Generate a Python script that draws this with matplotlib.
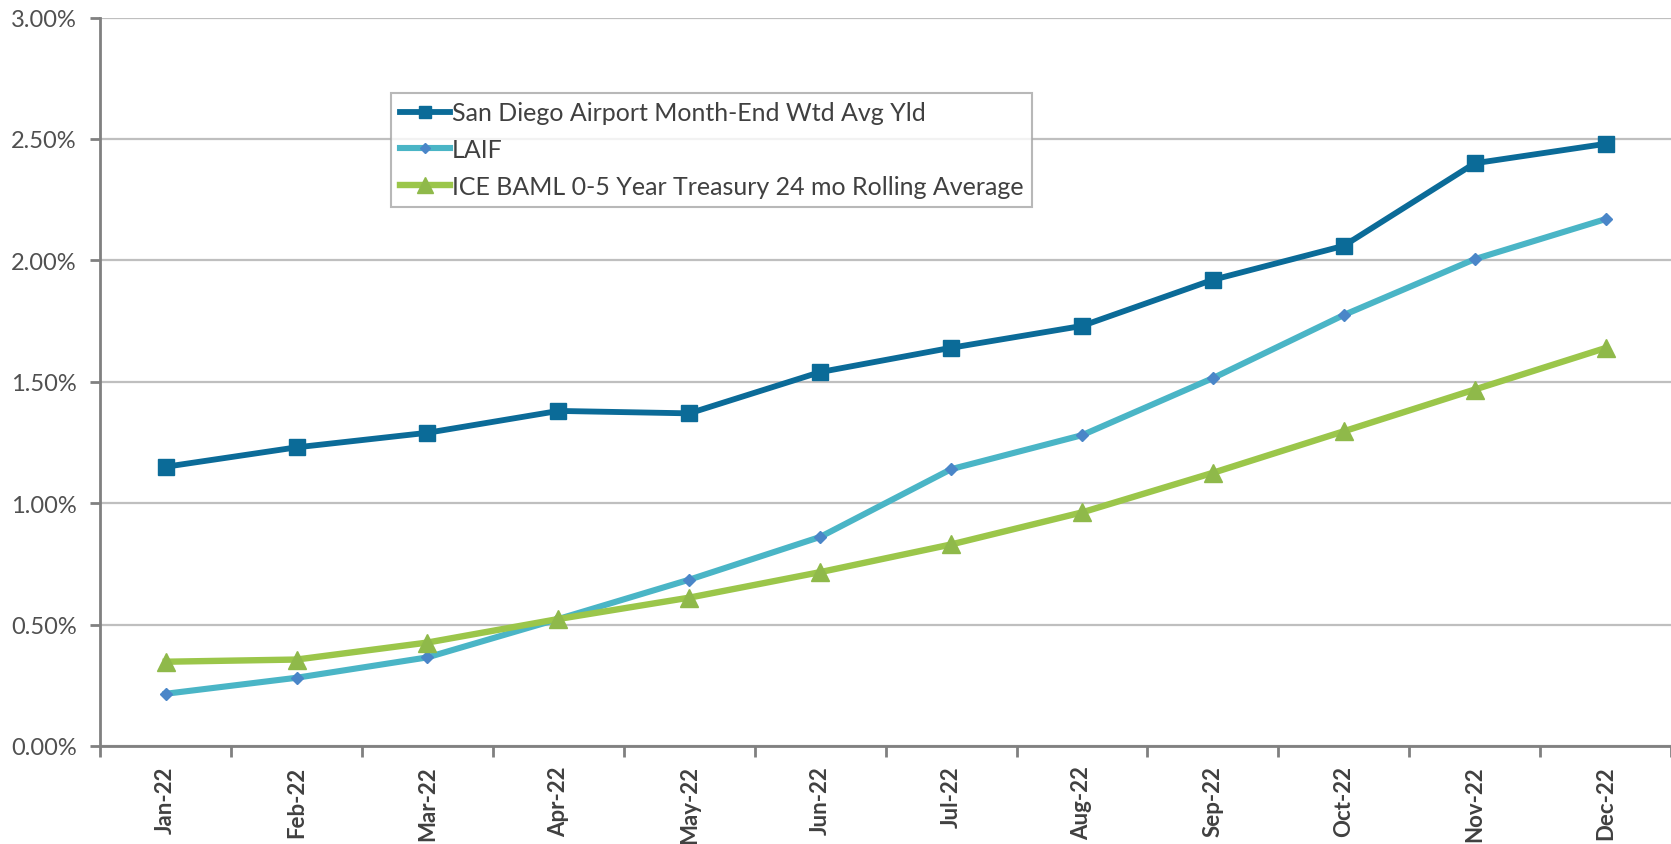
import matplotlib
matplotlib.use("Agg")
import matplotlib.pyplot as plt
from matplotlib.ticker import FuncFormatter, FixedLocator

plt.rcParams['font.family'] = ['Lato', 'DejaVu Sans']

months = ['Jan-22', 'Feb-22', 'Mar-22', 'Apr-22', 'May-22', 'Jun-22',
          'Jul-22', 'Aug-22', 'Sep-22', 'Oct-22', 'Nov-22', 'Dec-22']

# yields in percent
san_diego = [1.15, 1.23, 1.29, 1.38, 1.37, 1.54, 1.64, 1.73, 1.92, 2.06, 2.40, 2.48]
laif = [0.215, 0.281, 0.365, 0.523, 0.685, 0.861, 1.14, 1.28, 1.515, 1.775, 2.005, 2.17]
ice_baml = [0.347, 0.356, 0.426, 0.523, 0.611, 0.716, 0.83, 0.962, 1.125, 1.296, 1.468, 1.639]

fig = plt.figure(figsize=(16.71, 8.45), dpi=100)
ax = fig.add_axes([0.06, 0.116, 0.94, 0.862])

x = list(range(len(months)))

ax.plot(x, san_diego, color='#0b6b98', lw=4.2, marker='s', ms=11,
        markerfacecolor='#0b6b98', markeredgecolor='#0b6b98',
        label='San Diego Airport Month-End Wtd Avg Yld', zorder=4)
ax.plot(x, laif, color='#4ab5c6', lw=4.4, marker='D', ms=6.5,
        markerfacecolor='#4a86c8', markeredgecolor='#4a86c8',
        label='LAIF', zorder=3)
ax.plot(x, ice_baml, color='#9bc64a', lw=4.6, marker='^', ms=13,
        markerfacecolor='#8fb94a', markeredgecolor='#8fb94a',
        label='ICE BAML 0-5 Year Treasury 24 mo Rolling Average', zorder=3)

ax.set_xlim(-0.5, len(months) - 0.5)
ax.set_ylim(0, 3.0)
ax.set_yticks([0, 0.5, 1.0, 1.5, 2.0, 2.5, 3.0])
ax.yaxis.set_major_formatter(FuncFormatter(lambda v, p: f'{v:.2f}%'))

# category boundaries carry the ticks, centres carry the labels
ax.xaxis.set_major_locator(FixedLocator([i - 0.5 for i in range(len(months) + 1)]))
ax.xaxis.set_major_formatter(FuncFormatter(lambda v, p: ''))
ax.set_xticks(x, minor=True)
ax.set_xticklabels(months, minor=True, rotation=90, fontsize=16,
                   fontweight='bold', color='#404040')
ax.tick_params(axis='x', which='major', length=8, width=2, color='#808080', direction='out')
ax.tick_params(axis='x', which='minor', length=0, pad=14)
ax.tick_params(axis='y', length=7, width=2, color='#808080', labelsize=17,
               labelcolor='#505050', pad=10)

ax.grid(axis='y', color='#bfbfbf', lw=1.6)
ax.set_axisbelow(True)
for s in ['top', 'right']:
    ax.spines[s].set_visible(False)
for s in ['left', 'bottom']:
    ax.spines[s].set_color('#808080')
    ax.spines[s].set_linewidth(2)

leg = ax.legend(loc='upper left', bbox_to_anchor=(0.185, 0.897), fontsize=18,
                frameon=True, fancybox=False, handlelength=2.0, handletextpad=0.1,
                borderpad=0.35, labelspacing=0.55, borderaxespad=0, markerscale=0.85)
leg.get_frame().set_edgecolor('#a6a6a6')
leg.get_frame().set_linewidth(1.5)
for t in leg.get_texts():
    t.set_color('#404040')

fig.savefig('out.png', dpi=100)
